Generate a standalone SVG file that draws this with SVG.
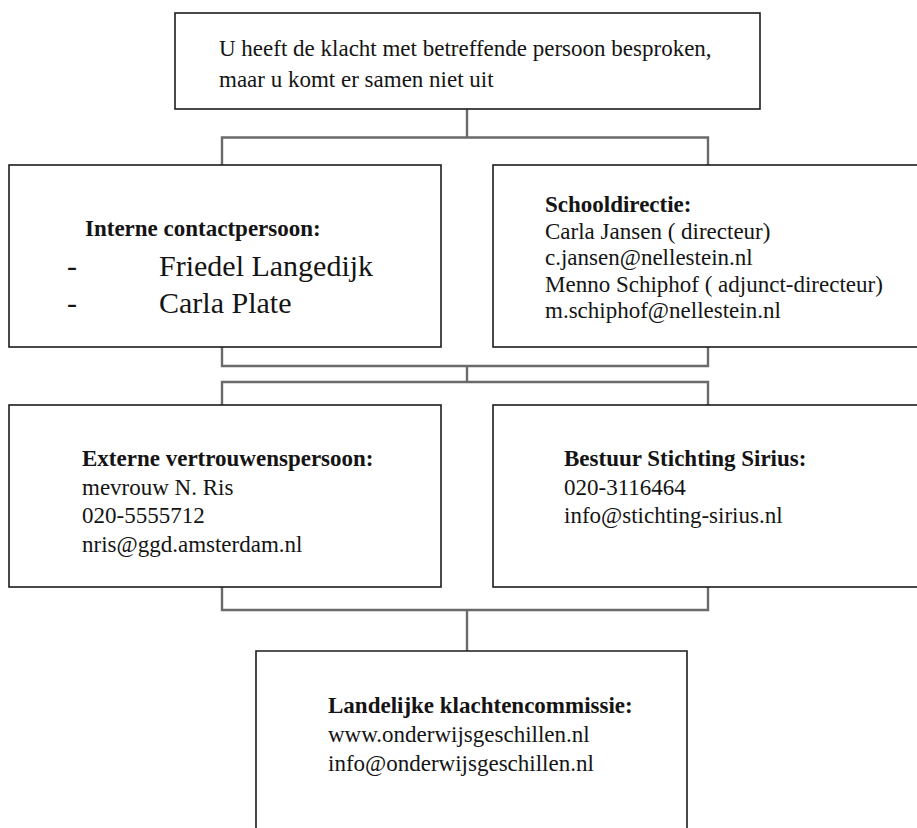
<svg xmlns="http://www.w3.org/2000/svg" width="917" height="828" viewBox="0 0 917 828">
<style>
.box{fill:#fff;stroke:#1c1c1c;stroke-width:1.6}
.con{fill:none;stroke:#6a6a6a;stroke-width:2.4}
text{font-family:"Liberation Serif","Times New Roman",serif;fill:#141414;font-size:23px}
.b{font-weight:bold}
.big{font-size:30px}
</style>
<rect width="917" height="828" fill="#fff"/>
<g id="connectors">
<path class="con" d="M467,109V137.5"/>
<path class="con" d="M222,165V137.5H708V165"/>
<path class="con" d="M222,347V366H708V347"/>
<path class="con" d="M467,366V382"/>
<path class="con" d="M222,405V382H708V405"/>
<path class="con" d="M222,587V610H708V587"/>
<path class="con" d="M467,610V651"/>
</g>
<g id="start">
<rect class="box" x="175" y="13" width="585" height="96"/>
<text x="219" y="56">U heeft de klacht met betreffende persoon besproken,</text>
<text x="219" y="87">maar u komt er samen niet uit</text>
</g>
<g id="intern">
<rect class="box" x="9" y="165" width="432" height="182"/>
<text class="b" x="85" y="236">Interne contactpersoon:</text>
<text class="big" x="67" y="276">-</text>
<text class="big" x="159" y="276">Friedel Langedijk</text>
<text class="big" x="67" y="313">-</text>
<text class="big" x="159" y="313">Carla Plate</text>
</g>
<g id="schooldirectie">
<rect class="box" x="493" y="165" width="432" height="182"/>
<text class="b" x="545" y="212">Schooldirectie:</text>
<text x="545" y="239">Carla Jansen ( directeur)</text>
<text x="545" y="265">c.jansen@nellestein.nl</text>
<text x="545" y="292">Menno Schiphof ( adjunct-directeur)</text>
<text x="545" y="318">m.schiphof@nellestein.nl</text>
</g>
<g id="extern">
<rect class="box" x="9" y="405" width="432" height="182"/>
<text class="b" x="82" y="466">Externe vertrouwenspersoon:</text>
<text x="82" y="495">mevrouw N. Ris</text>
<text x="82" y="523">020-5555712</text>
<text x="82" y="552">nris@ggd.amsterdam.nl</text>
</g>
<g id="bestuur">
<rect class="box" x="493" y="405" width="432" height="182"/>
<text class="b" x="564" y="466">Bestuur Stichting Sirius:</text>
<text x="564" y="495">020-3116464</text>
<text x="564" y="523">info@stichting-sirius.nl</text>
</g>
<g id="landelijk">
<path class="box" d="M256,840V651H687V840"/>
<text class="b" x="328" y="713">Landelijke klachtencommissie:</text>
<text x="328" y="742">www.onderwijsgeschillen.nl</text>
<text x="328" y="771">info@onderwijsgeschillen.nl</text>
</g>
</svg>
